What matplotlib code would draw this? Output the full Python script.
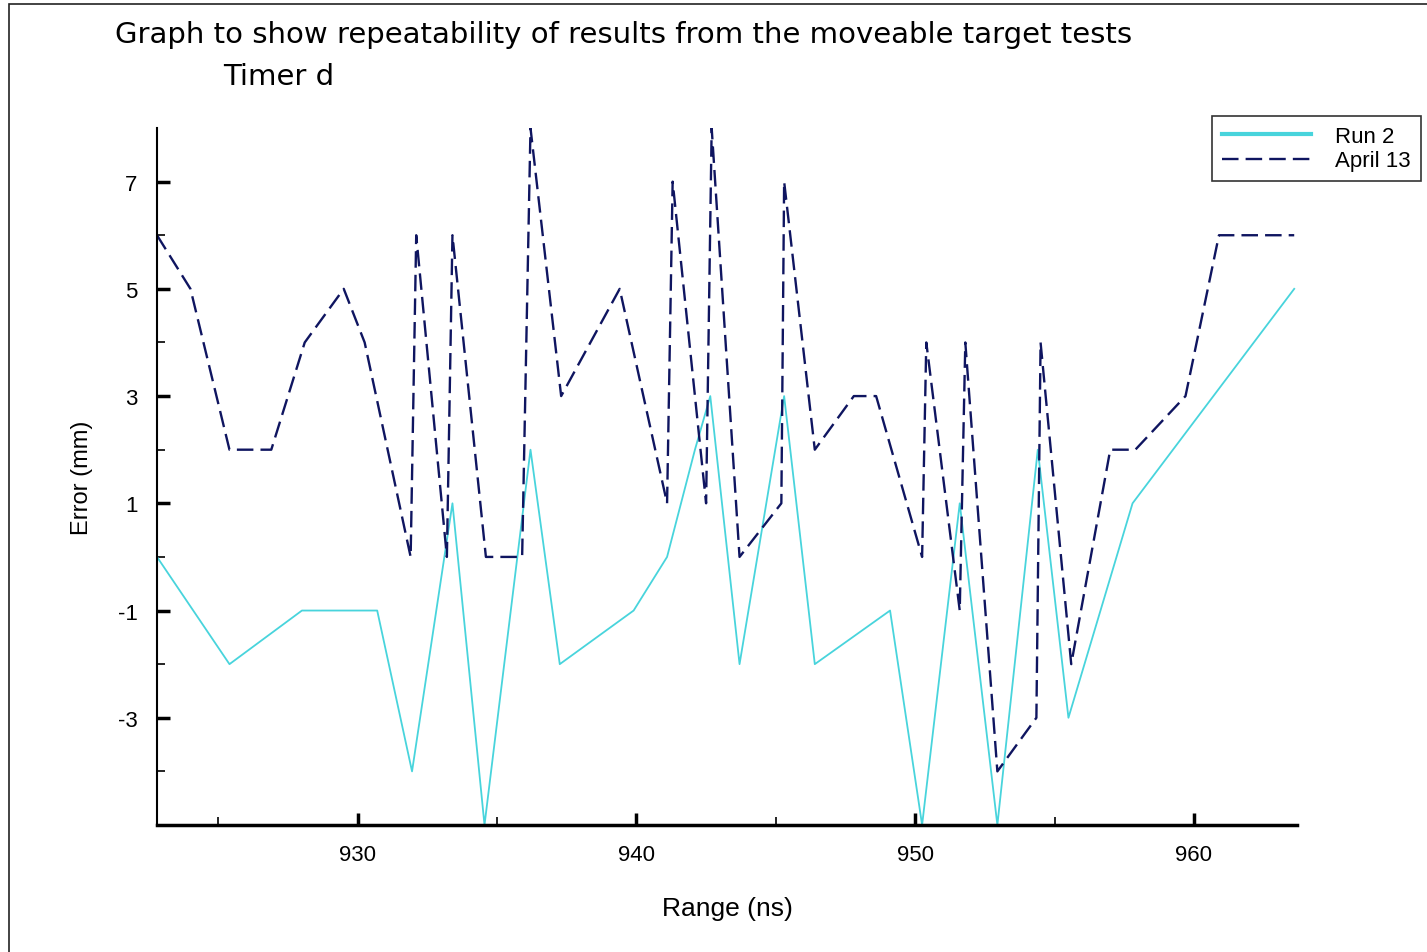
import matplotlib
matplotlib.use("Agg")
import matplotlib.pyplot as plt
from matplotlib.patches import Rectangle

plt.rcParams['font.family'] = ['Liberation Sans', 'DejaVu Sans']
plt.rcParams['axes.unicode_minus'] = False

# Run 2 (cyan, solid)
run2_range = [922.8, 925.4, 928.0, 930.7, 931.95, 933.4, 934.55, 936.2, 937.25,
              939.9, 941.1, 942.1, 942.65, 943.7, 945.3, 946.4, 949.1, 950.25,
              951.6, 952.95, 954.4, 955.5, 957.8, 963.6]
run2_error = [0, -2, -1, -1, -4, 1, -5, 2, -2,
              -1, 0, 2, 3, -2, 3, -2, -1, -5,
              1, -5, 2, -3, 1, 5]

# April 13 (navy, dashed)
april_range = [922.8, 924.0, 925.4, 926.9, 928.1, 929.5, 930.25, 931.9, 932.1,
               933.2, 933.4, 934.6, 935.9, 936.2, 937.3, 939.4, 941.1, 941.3,
               942.5, 942.7, 943.7, 945.2, 945.3, 946.4, 947.8, 948.6, 950.25,
               950.4, 951.6, 951.8, 952.95, 954.35, 954.5, 955.6, 957.0, 957.9,
               959.7, 960.9, 963.6]
april_error = [6, 5, 2, 2, 4, 5, 4, 0, 6,
               0, 6, 0, 0, 8, 3, 5, 1, 7,
               1, 8, 0, 1, 7, 2, 3, 3, 0,
               4, -1, 4, -4, -3, 4, -2, 2, 2,
               3, 6, 6]

major_x = [930, 940, 950, 960]
minor_x = [925, 935, 945, 955]
major_y = [7, 5, 3, 1, -1, -3]
minor_y = [6, 4, 2, 0, -2, -4]

fig = plt.figure(figsize=(14.27, 9.53), dpi=100)
fig.patch.set_facecolor('white')

# outer frame (only top/left visible in the original)
fig.patches.append(Rectangle((9 / 1427, -0.1), 1.2, 1 - 5 / 953 + 0.1,
                             transform=fig.transFigure, fill=False,
                             edgecolor='#222222', linewidth=1.2))

ax = fig.add_axes([157 / 1427, 1 - 826 / 953, (1297 - 157) / 1427, (826 - 129) / 953])

ax.plot(run2_range, run2_error, color='#48d4dc', linewidth=1.3, label='Run 2')
ax.plot(april_range, april_error, color='#0f1560', linewidth=1.7,
        dashes=(7, 3), label='April 13')

ax.set_xlim(922.8, 963.7)
ax.set_ylim(-5, 8)

for s in ['top', 'right']:
    ax.spines[s].set_visible(False)
ax.spines['left'].set_linewidth(1.5)
ax.spines['bottom'].set_linewidth(2.5)

ax.set_xticks(major_x)
ax.set_xticks(minor_x, minor=True)
ax.set_yticks(major_y)
ax.set_yticks(minor_y, minor=True)
ax.tick_params(which='major', direction='in', length=9, width=2.5, labelsize=16, pad=14, colors='black')
ax.tick_params(which='minor', direction='in', length=6, width=1.2)
ax.tick_params(axis='y', which='major', pad=14)

ax.set_xlabel('Range (ns)', fontsize=19, labelpad=22)
ax.set_ylabel('Error (mm)', fontsize=17, labelpad=18)

fig.text(624 / 1427, 1 - 35 / 953, 'Graph to show repeatability of results from the moveable target tests',
         ha='center', va='center', fontsize=21, family='DejaVu Sans')
fig.text(279 / 1427, 1 - 77 / 953, 'Timer d', ha='center', va='center', fontsize=21,
         family='DejaVu Sans')

leg = ax.legend(loc='upper right', bbox_to_anchor=(1421 / 1427, 1 - 117 / 953),
                bbox_transform=fig.transFigure, borderaxespad=0, fontsize=16, frameon=True,
                fancybox=False, handlelength=4.0, borderpad=0.45, labelspacing=0.15,
                handletextpad=1.1)
leg.get_frame().set_edgecolor('black')
leg.get_frame().set_linewidth(1.2)
leg.get_lines()[0].set_linewidth(3)

fig.savefig('out.png', dpi=100)
